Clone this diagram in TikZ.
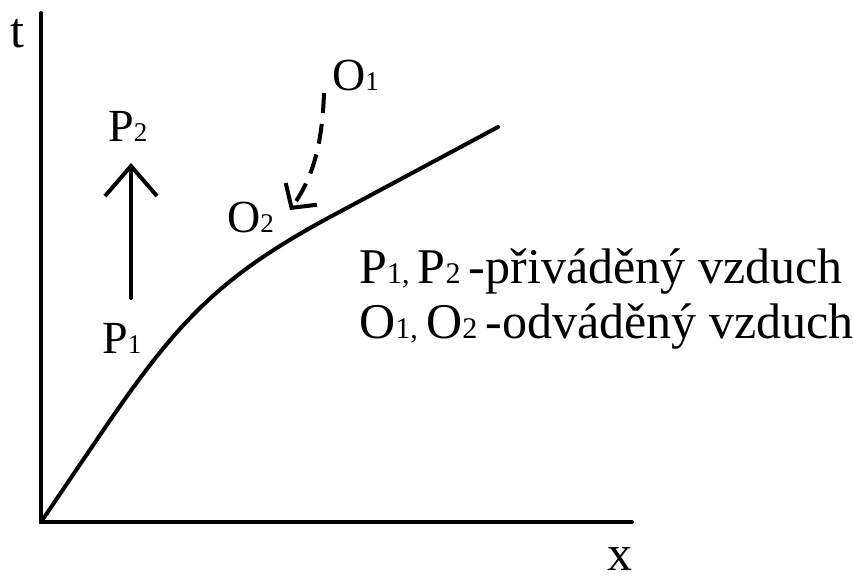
\documentclass[tikz,border=0pt]{standalone}
\usepackage{fontspec}
\setmainfont{Liberation Serif}
\usetikzlibrary{arrows.meta}
\newcommand\lsub[1]{{\fontsize{27}{27}\selectfont #1}}
\newcommand\gsub[1]{{\fontsize{30}{30}\selectfont #1}}
\tikzset{
  axisline/.style={line width=4pt, line cap=round},
  curveline/.style={line width=4pt, line cap=round},
  lbl/.style={inner sep=0pt, anchor=base west, font=\fontsize{46}{46}\selectfont},
  legend/.style={inner sep=0pt, anchor=base west, font=\fontsize{50}{50}\selectfont},
  solidarrow/.style={line width=4pt, line cap=round, -{Straight Barb[length=30pt,width=52pt,line width=4pt]}},
  dasharrow/.style={line width=4pt, dash pattern=on 20pt off 11pt, -{Straight Barb[length=17pt,width=38pt,line width=4pt]}}
}
\begin{document}
\begin{tikzpicture}[x=1pt,y=-1pt]
\useasboundingbox (0,0) rectangle (853,583);
% axes
\coordinate (ytop) at (41,13);
\coordinate (orig) at (41,522);
\coordinate (xend) at (632,522);
\draw[axisline] (ytop) -- (orig) -- (xend);
\node[lbl, font=\fontsize{50}{50}\selectfont] (tlab) at (10,48) {t};
\node[lbl, font=\fontsize{50}{50}\selectfont] (xlab) at (607,570) {x};
% curve
\coordinate (c1) at (100,435);
\coordinate (c2) at (330,217);
\coordinate (cend) at (498,127);
\draw[curveline] (orig) -- (c1) .. controls (175,325) and (215,279) .. (c2) -- (cend);
% P arrow
\coordinate (pa) at (131,298);
\coordinate (pb) at (131,163);
\draw[solidarrow] (pa) -- (pb);
\node[lbl] (P2) at (108,141) {P\lsub{2}};
\node[lbl] (P1) at (102,353) {P\lsub{1}};
% O arrow
\coordinate (oa) at (324,93);
\coordinate (ob) at (290,210);
\draw[dasharrow] (oa) .. controls (322,150) and (311,180) .. (ob);
\node[lbl] (O1) at (332,91) {O\lsub{1}};
\node[lbl] (O2) at (227,232) {O\lsub{2}};
% legend
\node[legend] (L1) at (359,283) {P\gsub{1,}\,P\gsub{2}\,-přiváděný vzduch};
\node[legend] (L2) at (359,338) {O\gsub{1,}\,O\gsub{2}\,-odváděný vzduch};
\end{tikzpicture}
\end{document}
